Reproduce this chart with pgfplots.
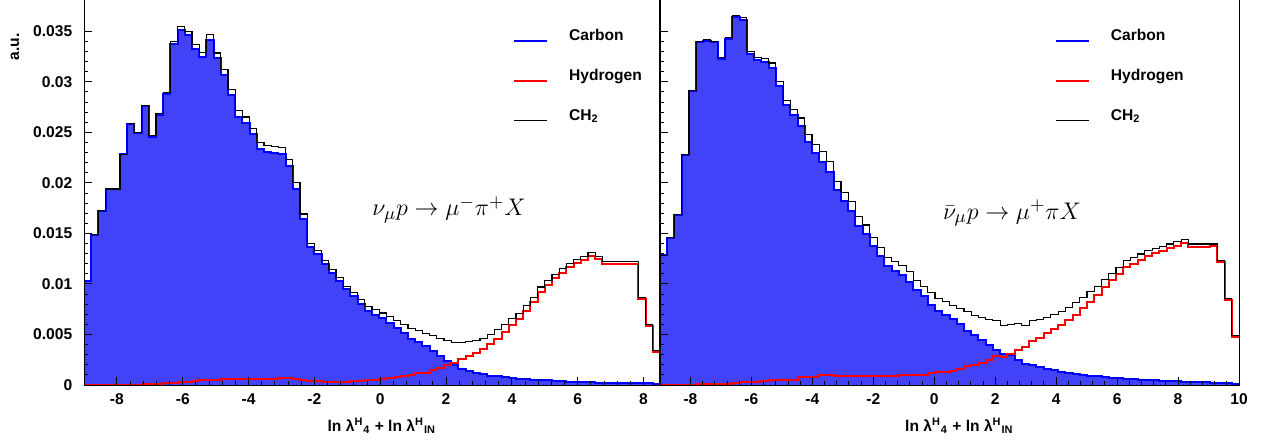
\documentclass[border=0pt]{standalone}
\usepackage{pgfplots}
\pgfplotsset{compat=1.18}
\usepackage{pgfplotstable}
\usepackage{fontspec}
\setmainfont{Liberation Sans}
\definecolor{cfill}{RGB}{66,66,248}
\definecolor{cblue}{RGB}{0,0,255}
\definecolor{cred}{RGB}{255,0,0}

\pgfplotstableread{
x C H T
-9 0.0103 0.00003 0.0150
-8.78125 0.01482 0.00003 0.01485
-8.5625 0.01722 0.00003 0.01725
-8.34375 0.01937 0.00003 0.0194
-8.125 0.01937 0.00003 0.0194
-7.90625 0.02282 0.00003 0.02285
-7.6875 0.02586 0.00004 0.0259
-7.46875 0.02495 0.00005 0.0250
-7.25 0.02761 0.00006 0.02767
-7.03125 0.02458 0.00008 0.02466
-6.8125 0.02672 0.00012 0.02684
-6.59375 0.02878 0.00018 0.02896
-6.375 0.03378 0.00022 0.0340
-6.15625 0.03516 0.00028 0.03544
-5.9375 0.03467 0.00033 0.0350
-5.71875 0.03329 0.0004 0.03369
-5.5 0.03247 0.00045 0.03292
-5.28125 0.03415 0.0005 0.03465
-5.0625 0.03233 0.00053 0.03286
-4.84375 0.03065 0.00055 0.0312
-4.625 0.02865 0.00057 0.02922
-4.40625 0.02656 0.00058 0.02714
-4.1875 0.02592 0.0006 0.02652
-3.96875 0.02482 0.0006 0.02542
-3.75 0.02339 0.00061 0.0240
-3.53125 0.02308 0.00062 0.0237
-3.3125 0.02296 0.00064 0.0236
-3.09375 0.02285 0.00065 0.0235
-2.875 0.02163 0.00065 0.02228
-2.65625 0.01943 0.0006 0.02003
-2.4375 0.01647 0.00045 0.01692
-2.21875 0.01364 0.00038 0.01402
-2 0.013 0.00035 0.01335
-1.78125 0.01196 0.00033 0.01229
-1.5625 0.01113 0.00031 0.01144
-1.34375 0.01034 0.0003 0.01064
-1.125 0.00946 0.00032 0.00978
-0.90625 0.00877 0.00035 0.00912
-0.6875 0.00806 0.0004 0.00846
-0.46875 0.00735 0.00045 0.0078
-0.25 0.00697 0.0005 0.00747
-0.03125 0.0066 0.00055 0.00713
0.1875 0.0061 0.0007 0.0068
0.40625 0.0056 0.0008 0.0064
0.625 0.0051 0.0009 0.0060
0.84375 0.0046 0.0010 0.0056
1.0625 0.00426 0.00114 0.0054
1.28125 0.0039 0.0012 0.0051
1.5 0.0034 0.0015 0.0049
1.71875 0.0029 0.0017 0.0046
1.9375 0.0024 0.0020 0.0044
2.15625 0.0020 0.0022 0.0042
2.375 0.0016 0.0026 0.0042
2.59375 0.0014 0.0029 0.0043
2.8125 0.0012 0.0032 0.0044
3.03125 0.00105 0.0036 0.0046
3.25 0.0009 0.0041 0.0050
3.46875 0.00085 0.0046 0.0055
3.6875 0.0008 0.0052 0.0060
3.90625 0.00072 0.0059 0.0066
4.125 0.00062 0.0065 0.0071
4.34375 0.00056 0.0073 0.0079
4.5625 0.00053 0.0082 0.0087
4.78125 0.00046 0.0092 0.0097
5 0.00046 0.0099 0.01038
5.21875 0.0004 0.0106 0.01097
5.4375 0.0004 0.0111 0.01154
5.65625 0.00033 0.0117 0.01203
5.875 0.00033 0.0121 0.01243
6.09375 0.0003 0.0124 0.01269
6.3125 0.0003 0.0128 0.01309
6.53125 0.00023 0.0125 0.01269
6.75 0.00023 0.0120 0.01226
6.96875 0.00023 0.0120 0.0122
7.1875 0.0002 0.0120 0.0122
7.40625 0.0002 0.0120 0.0122
7.625 0.0002 0.0120 0.0122
7.84375 0.00017 0.0085 0.0087
8.0625 0.00015 0.0058 0.0060
8.28125 0.00013 0.0033 0.0034
8.5 0.00013 0.0033 0.0034
}\lefttab

\pgfplotstableread{
x C H T
-9 0.01283 0.00003 0.01286
-8.7625 0.01457 0.00003 0.0146
-8.525 0.01687 0.00003 0.0169
-8.2875 0.02275 0.00003 0.02278
-8.05 0.02913 0.00003 0.02916
-7.8125 0.03394 0.00006 0.0340
-7.575 0.03408 0.0001 0.03418
-7.3375 0.0339 0.0001 0.0340
-7.1 0.03227 0.0001 0.03237
-6.8625 0.03425 0.0001 0.03435
-6.625 0.03642 0.00015 0.03657
-6.3875 0.03609 0.00025 0.03634
-6.15 0.03277 0.00025 0.03302
-5.9125 0.03212 0.00025 0.03237
-5.675 0.03195 0.00035 0.0323
-5.4375 0.03137 0.0005 0.03187
-5.2 0.02955 0.0005 0.03005
-4.9625 0.02766 0.0005 0.02816
-4.725 0.02674 0.0005 0.02724
-4.4875 0.02562 0.0008 0.02642
-4.25 0.02403 0.0008 0.02483
-4.0125 0.02297 0.0008 0.02377
-3.775 0.0221 0.001 0.0231
-3.5375 0.02111 0.001 0.02211
-3.3 0.01925 0.00088 0.02013
-3.0625 0.01816 0.00088 0.01904
-2.825 0.01726 0.00088 0.01814
-2.5875 0.01578 0.00088 0.01666
-2.35 0.01495 0.00088 0.01583
-2.1125 0.01373 0.00088 0.01461
-1.875 0.01274 0.00088 0.01362
-1.6375 0.01175 0.00088 0.01263
-1.4 0.01132 0.00088 0.0122
-1.1625 0.01086 0.001 0.01186
-0.925 0.0102 0.001 0.0112
-0.6875 0.00938 0.001 0.01038
-0.45 0.00878 0.001 0.00978
-0.2125 0.00792 0.0012 0.00912
0.025 0.00731 0.00125 0.00856
0.2625 0.00692 0.0013 0.00822
0.5 0.0065 0.0014 0.0079
0.7375 0.00608 0.0016 0.00757
0.975 0.00535 0.00185 0.00723
1.2125 0.00492 0.002 0.0069
1.45 0.0045 0.0022 0.00667
1.6875 0.00393 0.0025 0.00648
1.925 0.00343 0.0029 0.00641
2.1625 0.0031 0.0028 0.00591
2.4 0.00294 0.0031 0.006
2.6375 0.0025 0.0035 0.00608
2.875 0.00211 0.0038 0.00591
3.1125 0.00194 0.0044 0.00641
3.35 0.00178 0.0047 0.0065
3.5875 0.00155 0.0051 0.00667
3.825 0.00145 0.0055 0.00697
4.0625 0.00128 0.0059 0.00723
4.3 0.00118 0.0064 0.00767
4.5375 0.00112 0.0069 0.00813
4.775 0.00095 0.0076 0.00866
5.0125 0.00092 0.0082 0.00922
5.25 0.00085 0.0089 0.00978
5.4875 0.00079 0.0097 0.01045
5.725 0.00069 0.0104 0.01104
5.9625 0.00065 0.0110 0.01164
6.2 0.00062 0.0117 0.01236
6.4375 0.00058 0.0120 0.01259
6.675 0.00054 0.0124 0.01296
6.9125 0.0005 0.0128 0.01328
7.15 0.00046 0.0131 0.01352
7.3875 0.00042 0.0133 0.01375
7.625 0.00039 0.0136 0.01395
7.8625 0.00036 0.0138 0.01418
8.1 0.00033 0.0141 0.01441
8.3375 0.0003 0.0137 0.01395
8.575 0.00028 0.0137 0.01395
8.8125 0.00026 0.0137 0.01395
9.05 0.00023 0.0138 0.01395
9.2875 0.0002 0.0122 0.01236
9.525 0.00017 0.0084 0.00856
9.7625 0.00013 0.0048 0.00492
10 0.00013 0.0048 0.00492
}\righttab

\pgfplotsset{
  panel/.style={
    scale only axis,
    height=192.5pt,
    ymin=0, ymax=0.0381,
    axis on top,
    axis line style={line width=0.5pt},
    tick align=inside,
    xtick pos=bottom, ytick pos=left,
    major tick length=4pt, minor tick length=2pt,
    tick style={line width=0.5pt, black},
    minor x tick num=4, minor y tick num=4,
    ytick={0,0.005,0.01,0.015,0.02,0.025,0.03,0.035},
    scaled y ticks=false, scaled x ticks=false,
    ticklabel style={font=\bfseries\fontsize{7.8}{9}\selectfont, inner sep=0pt},
    yticklabel style={anchor=east, xshift=-5.7pt},
    xticklabel style={anchor=north, yshift=-4pt},
    xlabel={ln λ\textsuperscript{H}\textsubscript{4} + ln λ\textsuperscript{H}\textsubscript{IN}},
    label style={font=\bfseries\fontsize{7.8}{9}\selectfont},
    xlabel style={at={(axis description cs:0.517,0)}, anchor=north, yshift=-16.5pt, inner sep=0pt},
    legend image code/.code={\draw[#1] (0pt,-2pt) -- (16.5pt,-2pt);},
    legend cell align=left,
    legend style={draw=none, fill=none, anchor=north west, inner sep=0pt, outer sep=0pt,
      font=\bfseries\fontsize{7.8}{9}\selectfont, row sep=12pt, column sep=10.5pt,
      nodes={inner sep=0pt, text height=6pt, text depth=2pt}},
  }
}

\begin{document}
\begin{tikzpicture}
\useasboundingbox (0,0) rectangle (630.5pt,220pt);
\begin{axis}[panel, at={(42pt,27.5pt)}, anchor=south west, width=288pt,
  xmin=-9, xmax=8.5,
  xtick={-8,-6,-4,-2,0,2,4,6,8}, xticklabels={-8,-6,-4,-2,0,2,4,6,8},
  yticklabels={0,0.005,0.01,0.015,0.02,0.025,0.03,0.035},
  ylabel={a.u.},
  ylabel style={at={(axis description cs:-0.1198,0.878)}, anchor=center, inner sep=0pt},
  legend style={at={(axis description cs:0.745,0.9255)}}]
\addplot[const plot mark left, fill=cfill, draw=none, forget plot] table[x=x,y=C]{\lefttab} \closedcycle;
\addplot[const plot mark left, cblue, line width=1pt, forget plot] table[x=x,y=C]{\lefttab};
\addplot[const plot mark left, cred, line width=1pt, forget plot] table[x=x,y=H]{\lefttab};
\addplot[const plot mark left, black, line width=0.55pt, forget plot] table[x=x,y=T]{\lefttab};
\addlegendimage{cblue, line width=1pt}\addlegendentry{Carbon}
\addlegendimage{cred, line width=1pt}\addlegendentry{Hydrogen}
\addlegendimage{black, line width=0.5pt}\addlegendentry{CH\textsubscript{2}}
\node[font=\fontsize{13}{15}\selectfont] at (axis description cs:0.634,0.455) {$\nu_\mu p \rightarrow \mu^- \pi^+ X$};
\end{axis}
\begin{axis}[panel, at={(330pt,27.5pt)}, anchor=south west, width=289.5pt,
  xmin=-9, xmax=10,
  xtick={-8,-6,-4,-2,0,2,4,6,8,10}, xticklabels={-8,-6,-4,-2,0,2,4,6,8,10},
  yticklabels={},
  legend style={at={(axis description cs:0.682,0.9255)}}]
\addplot[const plot mark left, fill=cfill, draw=none, forget plot] table[x=x,y=C]{\righttab} \closedcycle;
\addplot[const plot mark left, cblue, line width=1pt, forget plot] table[x=x,y=C]{\righttab};
\addplot[const plot mark left, cred, line width=1pt, forget plot] table[x=x,y=H]{\righttab};
\addplot[const plot mark left, black, line width=0.55pt, forget plot] table[x=x,y=T]{\righttab};
\addlegendimage{cblue, line width=1pt}\addlegendentry{Carbon}
\addlegendimage{cred, line width=1pt}\addlegendentry{Hydrogen}
\addlegendimage{black, line width=0.5pt}\addlegendentry{CH\textsubscript{2}}
\node[font=\fontsize{13}{15}\selectfont] at (axis description cs:0.608,0.447) {$\bar{\nu}_\mu p \rightarrow \mu^+ \pi X$};
\end{axis}
\end{tikzpicture}
\end{document}
